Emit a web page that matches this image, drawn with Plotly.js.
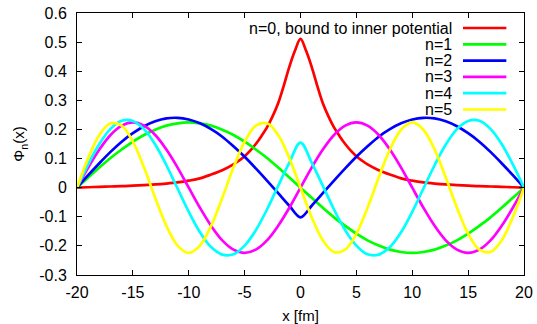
<!DOCTYPE html>
<html>
<head>
<meta charset="utf-8">
<script src="https://cdn.plot.ly/plotly-3.0.1.min.js"></script>
<style>html,body{margin:0;padding:0;background:#fff;}#chart{width:537px;height:324px;}</style>
</head>
<body>
<div id="chart"></div>
<script>
// ---- data ----
const xGrid = [-20,-19,-18,-17,-16,-15,-14,-13,-12,-11,-10,-9,-8,-7,-6,-5,-4,-3,-2,-1,0,
               1,2,3,4,5,6,7,8,9,10,11,12,13,14,15,16,17,18,19,20];

const redX = [-20,-19,-18,-17,-16,-15,-14,-13,-12,-11,-10,-9,-8,-7,-6,-5.5,-5,-4.5,-4,-3.5,-3,-2.5,-2,-1.5,-1,-0.5,0,
              0.5,1,1.5,2,2.5,3,3.5,4,4.5,5,5.5,6,7,8,9,10,11,12,13,14,15,16,17,18,19,20];
const redY = [0,0.0015,0.003,0.004,0.005,0.007,0.009,0.011,0.014,0.018,0.024,0.032,0.045,0.060,0.080,0.093,0.108,0.127,0.150,0.177,0.207,0.245,0.290,0.350,0.415,0.470,0.511,
              0.470,0.415,0.350,0.290,0.245,0.207,0.177,0.150,0.127,0.108,0.093,0.080,0.060,0.045,0.032,0.024,0.018,0.014,0.011,0.009,0.007,0.005,0.004,0.003,0.0015,0];

const greenY = [0,0.035,0.069,0.102,0.131,0.158,0.181,0.199,0.213,0.221,0.224,0.221,0.213,0.199,0.181,0.158,0.131,0.102,0.069,0.035,0,
                -0.035,-0.069,-0.102,-0.131,-0.158,-0.181,-0.199,-0.213,-0.221,-0.224,-0.221,-0.213,-0.199,-0.181,-0.158,-0.131,-0.102,-0.069,-0.035,0];

const blueY = [0,0.043,0.084,0.123,0.158,0.187,0.211,0.228,0.238,0.240,0.234,0.221,0.201,0.175,0.142,0.106,0.066,0.024,-0.019,-0.062,-0.102,
               -0.062,-0.019,0.024,0.066,0.106,0.142,0.175,0.201,0.221,0.234,0.240,0.238,0.228,0.211,0.187,0.158,0.123,0.084,0.043,0];

const magentaY = [0,0.069,0.131,0.181,0.213,0.224,0.213,0.181,0.131,0.069,0,-0.069,-0.131,-0.181,-0.213,-0.224,-0.213,-0.181,-0.131,-0.069,0,
                  0.069,0.131,0.181,0.213,0.224,0.213,0.181,0.131,0.069,0,-0.069,-0.131,-0.181,-0.213,-0.224,-0.213,-0.181,-0.131,-0.069,0];

const cyanY = [0,0.080,0.150,0.202,0.230,0.229,0.201,0.148,0.077,-0.003,-0.083,-0.153,-0.204,-0.230,-0.229,-0.199,-0.146,-0.075,0.006,0.086,0.155,
               0.086,0.006,-0.075,-0.146,-0.199,-0.229,-0.230,-0.204,-0.153,-0.083,-0.003,0.077,0.148,0.201,0.229,0.230,0.202,0.150,0.080,0];

const yellowY = [0,0.1015,0.181,0.221,0.213,0.158,0.069,-0.035,-0.131,-0.199,-0.224,-0.199,-0.131,-0.035,0.069,0.158,0.213,0.221,0.181,0.1015,0,
                 -0.1015,-0.181,-0.221,-0.213,-0.158,-0.069,0.035,0.131,0.199,0.224,0.199,0.131,0.035,-0.069,-0.158,-0.213,-0.221,-0.181,-0.1015,0];

const seriesNames = ["n=0, bound to inner potential","n=1","n=2","n=3","n=4","n=5"];
const seriesColors = ["#ff0000","#00ff00","#0000ff","#ff00ff","#00ffff","#ffff00"];

const xTickVals = [-20,-15,-10,-5,0,5,10,15,20];
const xTickText = ["-20","-15","-10","-5","0","5","10","15","20"];
const yTickVals = [-0.3,-0.2,-0.1,0,0.1,0.2,0.3,0.4,0.5,0.6];
const yTickText = ["-0.3","-0.2","-0.1","0","0.1","0.2","0.3","0.4","0.5","0.6"];

// ---- build ----
const FONT = "Liberation Sans, Arial, Helvetica, sans-serif";
const xs = [redX, xGrid, xGrid, xGrid, xGrid, xGrid];
const ys = [redY, greenY, blueY, magentaY, cyanY, yellowY];

const traces = ys.map((y, i) => ({
  x: xs[i], y: y, type: "scatter", mode: "lines", name: seriesNames[i],
  line: {color: seriesColors[i], width: 2.7, shape: "spline", smoothing: 1},
  showlegend: false, hoverinfo: "skip"
}));

// gnuplot-style key: right-aligned text, line sample to the right
const annotations = [];
const shapes = [];
const keyTop = 0.9427, keyStep = 0.0622;
seriesNames.forEach((nm, i) => {
  const yy = keyTop - i * keyStep;
  annotations.push({xref: "paper", yref: "paper", x: 0.843, y: yy, xanchor: "right", yanchor: "middle",
    text: nm, showarrow: false, font: {family: FONT, size: 16, color: "#000"}});
  shapes.push({type: "line", xref: "paper", yref: "paper", x0: 0.8635, x1: 0.9605, y0: yy, y1: yy,
    line: {color: seriesColors[i], width: 2.7}});
});

const axisCommon = {
  showline: true, linecolor: "#000", linewidth: 1, mirror: "ticks",
  ticks: "inside", ticklen: 5, tickwidth: 1, tickcolor: "#000",
  showgrid: false, zeroline: false, automargin: false,
  tickfont: {family: FONT, size: 16, color: "#000"}
};

const layout = {
  width: 537, height: 324,
  margin: {l: 77, r: 13, t: 13, b: 49, pad: 0},
  paper_bgcolor: "#fff", plot_bgcolor: "#fff",
  showlegend: false,
  font: {family: FONT, size: 16, color: "#000"},
  xaxis: Object.assign({}, axisCommon, {
    range: [-20, 20], tickmode: "array", tickvals: xTickVals, ticktext: xTickText,
    ticklabelstandoff: 3,
    title: {text: "x [fm]", font: {family: FONT, size: 15, color: "#000"}, standoff: 11}
  }),
  yaxis: Object.assign({}, axisCommon, {
    range: [-0.3, 0.6], tickmode: "array", tickvals: yTickVals, ticktext: yTickText,
    ticklabelstandoff: 6,
    title: {text: "Φ<sub>n</sub>(x)", font: {family: FONT, size: 15, color: "#000"}, standoff: 10}
  }),
  annotations: annotations,
  shapes: shapes
};

Plotly.newPlot("chart", traces, layout, {staticPlot: true, displayModeBar: false});
</script>
</body>
</html>
